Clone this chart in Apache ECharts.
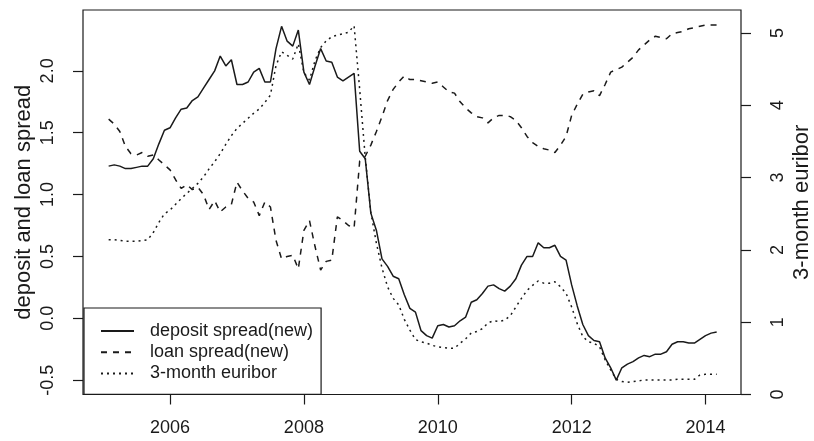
<!DOCTYPE html>
<html>
<head>
<meta charset="utf-8">
<script src="https://cdn.jsdelivr.net/npm/echarts@6/dist/echarts.min.js"></script>
<style>
  html, body { margin: 0; padding: 0; background: #fff; }
  #chart { width: 814px; height: 441px; }
</style>
</head>
<body>
<div id="chart"></div>
<script>
// Monthly series, first observation February 2005
const startYear = 2005;
const startMonth = 2;

// Deposit spread on new business (percentage points)
const depositSpread = [
  1.23, 1.24, 1.23, 1.21, 1.21, 1.22, 1.23, 1.23, 1.29, 1.41,
  1.52, 1.54, 1.62, 1.69, 1.70, 1.76, 1.79, 1.86, 1.93, 2.00,
  2.12, 2.04, 2.09, 1.89, 1.89, 1.91, 1.99, 2.02, 1.91, 1.91,
  2.18, 2.36, 2.24, 2.20, 2.33, 1.99, 1.89, 2.04, 2.18, 2.08,
  2.07, 1.95, 1.92, 1.95, 1.98, 1.35, 1.29, 0.85, 0.71, 0.48,
  0.42, 0.34, 0.32, 0.19, 0.08, 0.05, -0.10, -0.14, -0.16, -0.06,
  -0.05, -0.07, -0.06, -0.02, 0.01, 0.13, 0.15, 0.20, 0.26, 0.27,
  0.24, 0.22, 0.26, 0.32, 0.43, 0.50, 0.50, 0.61, 0.57, 0.57,
  0.59, 0.50, 0.47, 0.27, 0.10, -0.05, -0.14, -0.18, -0.19, -0.32,
  -0.40, -0.50, -0.40, -0.37, -0.35, -0.32, -0.30, -0.31, -0.29, -0.29,
  -0.27, -0.21, -0.19, -0.19, -0.20, -0.20, -0.17, -0.14, -0.12, -0.11
];

// Loan spread on new business (percentage points)
const loanSpread = [
  1.61, 1.57, 1.51, 1.39, 1.33, 1.32, 1.34, 1.31, 1.32, 1.28,
  1.24, 1.20, 1.12, 1.05, 1.08, 1.04, 1.06, 1.00, 0.88, 0.95,
  0.86, 0.90, 0.92, 1.10, 1.03, 0.97, 0.94, 0.83, 0.94, 0.90,
  0.63, 0.48, 0.50, 0.51, 0.40, 0.71, 0.79, 0.58, 0.39, 0.46,
  0.47, 0.82, 0.79, 0.75, 0.73, 1.27, 1.31, 1.40, 1.51, 1.63,
  1.76, 1.85, 1.91, 1.96, 1.93, 1.93, 1.92, 1.91, 1.90, 1.91,
  1.87, 1.83, 1.82, 1.75, 1.70, 1.66, 1.63, 1.62, 1.58, 1.62,
  1.64, 1.64, 1.63, 1.60, 1.54, 1.47, 1.42, 1.39, 1.37, 1.36,
  1.34, 1.40, 1.47, 1.64, 1.73, 1.81, 1.83, 1.84, 1.80, 1.89,
  1.99, 2.01, 2.03, 2.07, 2.11, 2.17, 2.21, 2.25, 2.28, 2.27,
  2.26, 2.30, 2.31, 2.32, 2.34, 2.35, 2.36, 2.37, 2.37, 2.37
];

// 3-month Euribor (percent)
const euribor3m = [
  2.14, 2.14, 2.13, 2.12, 2.12, 2.12, 2.13, 2.14, 2.24, 2.38,
  2.50, 2.55, 2.63, 2.71, 2.78, 2.85, 2.92, 3.01, 3.12, 3.22,
  3.33, 3.46, 3.58, 3.68, 3.75, 3.82, 3.89, 3.95, 4.04, 4.14,
  4.55, 4.74, 4.69, 4.64, 4.85, 4.45, 4.35, 4.62, 4.80, 4.89,
  4.95, 4.97, 4.99, 5.01, 5.10, 4.22, 3.28, 2.52, 2.09, 1.75,
  1.49, 1.33, 1.24, 1.04, 0.89, 0.76, 0.73, 0.71, 0.68, 0.66,
  0.65, 0.64, 0.64, 0.71, 0.77, 0.85, 0.87, 0.91, 0.99, 1.02,
  1.01, 1.03, 1.09, 1.21, 1.33, 1.44, 1.51, 1.57, 1.54, 1.54,
  1.56, 1.49, 1.40, 1.21, 0.98, 0.80, 0.73, 0.71, 0.66, 0.48,
  0.34, 0.21, 0.18, 0.17, 0.18, 0.19, 0.20, 0.20, 0.20, 0.20,
  0.20, 0.20, 0.21, 0.21, 0.21, 0.21, 0.27, 0.28, 0.28, 0.28
];

const yearTicks = [2006, 2008, 2010, 2012, 2014];
const spreadTicks = [-0.5, 0.0, 0.5, 1.0, 1.5, 2.0];
const euriborTicks = [0, 1, 2, 3, 4, 5];

const seriesNames = ['deposit spread(new)', 'loan spread(new)', '3-month euribor'];

// decimal-year time index for each monthly observation
const timeIndex = depositSpread.map((_, i) => startYear + (startMonth - 1 + i) / 12);
const pairs = (vals) => vals.map((v, i) => [timeIndex[i], v]);

const ink = '#1a1a1a';
const font = 'Liberation Sans, Arial, Helvetica, sans-serif';
const fs = 18;      // tick labels and legend
const fsName = 22;  // axis titles

const chart = echarts.init(document.getElementById('chart'), null, { renderer: 'canvas' });

chart.setOption({
  animation: false,
  backgroundColor: '#fff',
  grid: {
    left: 83, top: 10, width: 658, height: 384.5,
    outerBoundsMode: 'none', containLabel: false,
    show: true, borderColor: ink, borderWidth: 1.2, backgroundColor: 'transparent'
  },
  xAxis: {
    type: 'value',
    min: 2004.70, max: 2014.53,
    axisLine: { show: false, onZero: false },
    splitLine: { show: false },
    axisTick: { show: true, customValues: yearTicks, length: 10, inside: false,
                lineStyle: { color: ink, width: 1.2 } },
    axisLabel: { customValues: yearTicks, margin: 25, color: ink,
                 fontFamily: font, fontSize: fs, formatter: v => String(v) }
  },
  yAxis: [
    {
      type: 'value', position: 'left',
      min: -0.616, max: 2.492,
      axisLine: { show: false, onZero: false },
      splitLine: { show: false },
      axisTick: { show: true, customValues: spreadTicks, length: 10,
                  lineStyle: { color: ink, width: 1.2 } },
      axisLabel: { customValues: spreadTicks, rotate: 90, margin: 26, color: ink,
                   fontFamily: font, fontSize: fs, formatter: v => v.toFixed(1) },
      name: 'deposit and loan spread', nameLocation: 'middle', nameRotate: 90, nameGap: 48,
      nameMoveOverlap: false,
      nameTextStyle: { color: ink, fontFamily: font, fontSize: fsName }
    },
    {
      type: 'value', position: 'right',
      min: 0, max: 5.318,
      axisLine: { show: false, onZero: false },
      splitLine: { show: false },
      axisTick: { show: true, customValues: euriborTicks, length: 10,
                  lineStyle: { color: ink, width: 1.2 } },
      axisLabel: { customValues: euriborTicks, rotate: 90, margin: 28, color: ink,
                   fontFamily: font, fontSize: fs, formatter: v => String(v) },
      name: '3-month euribor', nameLocation: 'middle', nameRotate: 90, nameGap: 50,
      nameMoveOverlap: false,
      nameTextStyle: { color: ink, fontFamily: font, fontSize: fsName }
    }
  ],
  legend: {
    orient: 'vertical',
    left: 84, top: 308,
    data: seriesNames,
    itemWidth: 33, itemHeight: 14, itemGap: 3.2,
    padding: [14, 8, 12, 16],
    borderColor: ink, borderWidth: 1.2, borderRadius: 0,
    backgroundColor: '#fff',
    itemStyle: { opacity: 0 },
    textStyle: { color: ink, fontFamily: font, fontSize: fs, lineHeight: 18,
                 padding: [0, 0, 0, 11] }
  },
  series: [
    {
      name: seriesNames[0], type: 'line', yAxisIndex: 0,
      data: pairs(depositSpread), symbol: 'none',
      lineStyle: { color: ink, width: 1.5, type: 'solid' },
      itemStyle: { color: ink }
    },
    {
      name: seriesNames[1], type: 'line', yAxisIndex: 0,
      data: pairs(loanSpread), symbol: 'none',
      lineStyle: { color: ink, width: 1.5, type: [6, 6] },
      itemStyle: { color: ink }
    },
    {
      name: seriesNames[2], type: 'line', yAxisIndex: 1,
      data: pairs(euribor3m), symbol: 'none',
      lineStyle: { color: ink, width: 1.5, type: [2, 4] },
      itemStyle: { color: ink }
    }
  ]
});
</script>
</body>
</html>
